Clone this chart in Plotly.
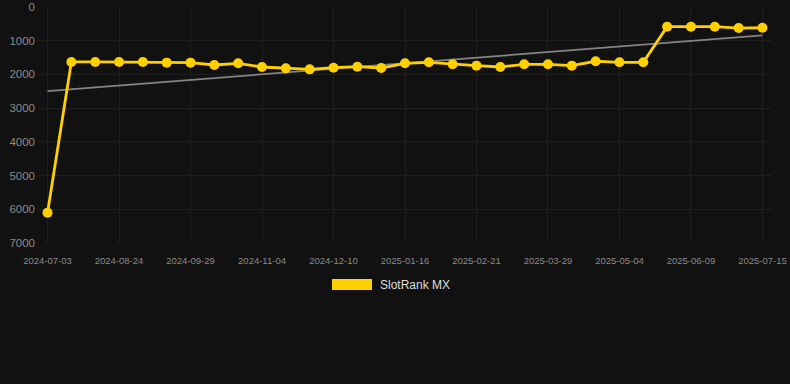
import numpy as np
import plotly.graph_objects as go

dates = ["2024-07-03", "2024-07-31", "2024-08-12", "2024-08-24", "2024-09-05", "2024-09-17",
         "2024-09-29", "2024-10-11", "2024-10-23", "2024-11-04", "2024-11-16", "2024-11-28",
         "2024-12-10", "2024-12-22", "2025-01-04", "2025-01-16", "2025-01-28", "2025-02-09",
         "2025-02-21", "2025-03-05", "2025-03-17", "2025-03-29", "2025-04-10", "2025-04-22",
         "2025-05-04", "2025-05-16", "2025-05-28", "2025-06-09", "2025-06-21", "2025-07-03",
         "2025-07-15"]
ranks = [6100, 1630, 1630, 1630, 1630, 1650, 1650, 1720, 1670, 1780, 1820, 1850,
         1800, 1770, 1810, 1670, 1640, 1700, 1740, 1780, 1700, 1700, 1740, 1610,
         1640, 1640, 585, 585, 585, 625, 615]
tick_labels = dates[::3]
y_ticks = [0, 1000, 2000, 3000, 4000, 5000, 6000, 7000]
series_name = "SlotRank MX"

idx = np.arange(len(ranks))
coef = np.polyfit(idx, ranks, 1)
trend = np.polyval(coef, [idx[0], idx[-1]])

fig = go.Figure()
fig.add_trace(go.Scatter(
    x=dates, y=ranks, mode="lines+markers", name=series_name,
    line=dict(color="#FFD000", width=2.8),
    marker=dict(color="#FFD000", size=10), showlegend=False))
fig.add_trace(go.Scatter(
    x=[dates[0], dates[-1]], y=trend, mode="lines",
    line=dict(color="#858585", width=1.7), hoverinfo="skip", showlegend=False))
# keep the rank line above the trend line
fig.data = (fig.data[1], fig.data[0])

fig.update_layout(
    width=790, height=384,
    margin=dict(l=38, r=18, t=7, b=141),
    paper_bgcolor="#111111", plot_bgcolor="#111111",
    font=dict(family="Liberation Sans, Arial, sans-serif", color="#8a8a8a"),
    xaxis=dict(type="category", categoryorder="array", categoryarray=dates,
               range=[-0.4, 30.4], tickmode="array",
               tickvals=tick_labels, ticktext=tick_labels, automargin=False,
               showgrid=True, gridcolor="#1f1f1f", gridwidth=1, ticklabelstandoff=10,
               zeroline=False, showline=False, ticks="", tickfont=dict(size=9.5, color="#8a8a8a")),
    yaxis=dict(range=[7000, 0], tickmode="array", tickvals=y_ticks, automargin=False,
               showgrid=True, gridcolor="#1f1f1f", gridwidth=1,
               zeroline=False, showline=False, ticks="", ticklabelstandoff=2,
               tickfont=dict(size=11.5, color="#8a8a8a")),
    shapes=[dict(type="rect", xref="paper", yref="paper",
                 x0=(332 - 38) / 734, x1=(372 - 38) / 734,
                 y0=(243 - 290) / 236, y1=(243 - 279) / 236,
                 fillcolor="#FFD000", line=dict(width=0))],
    annotations=[dict(text=series_name, xref="paper", yref="paper",
                      x=(378 - 38) / 734, y=(243 - 285) / 236,
                      xanchor="left", yanchor="middle", showarrow=False,
                      font=dict(size=12, color="#dddddd"))],
)

fig.write_html("out.html", config={"displayModeBar": False},
               post_script="document.body.style.margin='0';document.body.style.background='#111111';")
